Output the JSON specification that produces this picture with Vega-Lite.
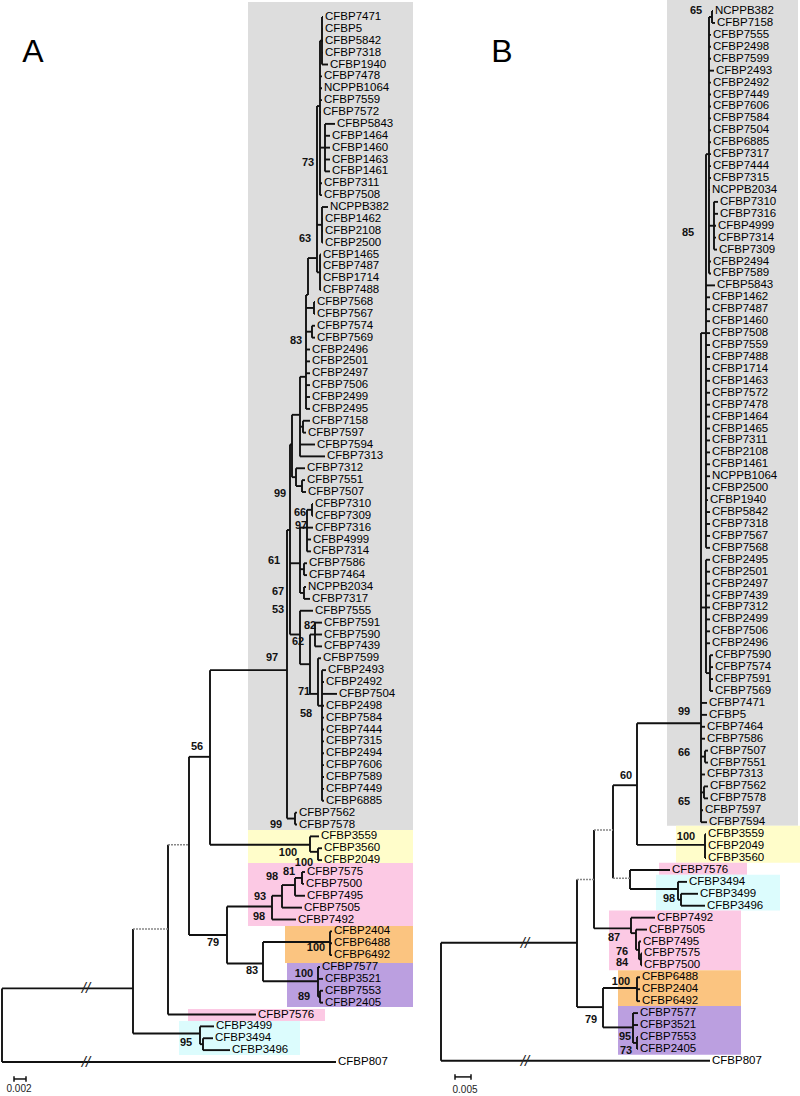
{
"$schema":"https://vega.github.io/schema/vega-lite/v6.json",
"padding":0,"spacing":0,"bounds":"flush","background":"white",
"config":{"view":{"stroke":null},"concat":{"spacing":0},"text":{"font":"Liberation Sans"},"rule":{"color":"#111","strokeWidth":1.9}},
"datasets":{
"rects":[
{"p":"A","x1":248,"x2":413,"r1":-1.26,"r2":68.46,"g":"gray"},
{"p":"A","x1":248,"x2":413,"r1":68.46,"r2":71.24,"g":"yellow"},
{"p":"A","x1":248,"x2":413,"r1":71.24,"r2":76.55,"g":"pink"},
{"p":"A","x1":285,"x2":413,"r1":76.55,"r2":79.66,"g":"orange"},
{"p":"A","x1":287,"x2":413,"r1":79.66,"r2":83.37,"g":"purple"},
{"p":"A","x1":188,"x2":325,"r1":83.54,"r2":84.55,"g":"pink"},
{"p":"A","x1":179,"x2":300,"r1":84.55,"r2":87.4,"g":"cyan"},
{"p":"B","x1":247,"x2":378,"r1":-0.92,"r2":68.3,"g":"gray"},
{"p":"B","x1":256,"x2":380,"r1":68.3,"r2":71.4,"g":"yellow"},
{"p":"B","x1":239,"x2":327,"r1":71.4,"r2":72.4,"g":"pink"},
{"p":"B","x1":236,"x2":360,"r1":72.4,"r2":75.4,"g":"cyan"},
{"p":"B","x1":189,"x2":321,"r1":75.4,"r2":80.4,"g":"pink"},
{"p":"B","x1":198,"x2":321,"r1":80.4,"r2":83.4,"g":"orange"},
{"p":"B","x1":198,"x2":321,"r1":83.4,"r2":87.5,"g":"purple"}
],
"nodes":[
{"p":"A","x":2,"px":2,"r1":81.8,"r2":88,"a":81.8},
{"p":"A","x":133,"px":2,"r1":76.8,"r2":85.6,"a":81.8},
{"p":"A","x":168,"px":133,"r1":69.7,"r2":84,"a":76.8,"d":1},
{"p":"A","x":200,"px":133,"r1":85,"r2":86.5,"a":85.6},
{"p":"A","x":203,"px":200,"r1":86,"r2":87,"a":86.5},
{"p":"A","x":189,"px":168,"r1":62.3,"r2":77.3,"a":69.7,"d":1},
{"p":"A","x":210,"px":189,"r1":55,"r2":69.7,"a":62.3},
{"p":"A","x":227,"px":189,"r1":74.9,"r2":79.7,"a":77.3},
{"p":"A","x":310,"px":210,"r1":69,"r2":70.3,"a":69.7},
{"p":"A","x":318,"px":310,"r1":70,"r2":71,"a":70.3},
{"p":"A","x":272,"px":227,"r1":74,"r2":76,"a":74.9},
{"p":"A","x":282,"px":272,"r1":73.1,"r2":75,"a":74},
{"p":"A","x":295,"px":282,"r1":72.5,"r2":74,"a":73.1},
{"p":"A","x":302,"px":295,"r1":72,"r2":73,"a":72.5},
{"p":"A","x":263,"px":227,"r1":77.9,"r2":81.2,"a":79.7},
{"p":"A","x":330,"px":263,"r1":77,"r2":79,"a":77.9},
{"p":"A","x":318,"px":263,"r1":80,"r2":82.5,"a":81.2},
{"p":"A","x":320,"px":318,"r1":82,"r2":83,"a":82.5},
{"p":"A","x":287,"px":210,"r1":43.2,"r2":67.5,"a":55},
{"p":"A","x":295,"px":287,"r1":67,"r2":68,"a":67.5},
{"p":"A","x":290,"px":287,"r1":36,"r2":52,"a":43.2},
{"p":"A","x":292,"px":290,"r1":33.5,"r2":38.75,"a":36},
{"p":"A","x":300,"px":292,"r1":30.3,"r2":37,"a":33.5},
{"p":"A","x":306,"px":300,"r1":23.4,"r2":33,"a":30.3},
{"p":"A","x":308,"px":306,"r1":20.3,"r2":23.4,"a":23.4},
{"p":"A","x":317,"px":308,"r1":7.5,"r2":21.5,"a":20.3},
{"p":"A","x":320,"px":317,"r1":2,"r2":15,"a":7.5},
{"p":"A","x":322,"px":320,"r1":0,"r2":4,"a":2},
{"p":"A","x":325,"px":320,"r1":9,"r2":13,"a":11},
{"p":"A","x":322,"px":317,"r1":16,"r2":19,"a":17.5},
{"p":"A","x":320,"px":317,"r1":20,"r2":23,"a":21.5},
{"p":"A","x":314,"px":306,"r1":24,"r2":25,"a":24.5},
{"p":"A","x":312,"px":306,"r1":26,"r2":27,"a":26.5},
{"p":"A","x":303,"px":300,"r1":34,"r2":35,"a":34.5},
{"p":"A","x":296,"px":292,"r1":38,"r2":39.5,"a":38.75},
{"p":"A","x":302,"px":296,"r1":39,"r2":40,"a":39.5},
{"p":"A","x":300,"px":290,"r1":43,"r2":48.5,"a":46},
{"p":"A","x":307,"px":300,"r1":41.5,"r2":45,"a":43},
{"p":"A","x":312,"px":307,"r1":41,"r2":42,"a":41.5},
{"p":"A","x":304,"px":300,"r1":46,"r2":47,"a":46.5},
{"p":"A","x":304,"px":300,"r1":48,"r2":49,"a":48.5},
{"p":"A","x":300,"px":290,"r1":50,"r2":54.5,"a":52},
{"p":"A","x":310,"px":300,"r1":52,"r2":57,"a":54.5},
{"p":"A","x":315,"px":310,"r1":51,"r2":53,"a":52},
{"p":"A","x":318,"px":310,"r1":54,"r2":58,"a":57},
{"p":"A","x":322,"px":318,"r1":55,"r2":66,"a":58},
{"p":"B","x":21,"px":21,"r1":78.1,"r2":88,"a":78.1},
{"p":"B","x":157,"px":21,"r1":72.8,"r2":83.5,"a":78.1},
{"p":"B","x":183,"px":157,"r1":81.9,"r2":85.2,"a":83.5},
{"p":"B","x":217,"px":183,"r1":81,"r2":83,"a":81.9},
{"p":"B","x":213,"px":183,"r1":84,"r2":86.5,"a":85.2},
{"p":"B","x":217,"px":213,"r1":86,"r2":87,"a":86.5},
{"p":"B","x":174,"px":157,"r1":68.65,"r2":76.9,"a":72.8,"d":1},
{"p":"B","x":211,"px":174,"r1":76,"r2":77.3,"a":76.9},
{"p":"B","x":216,"px":211,"r1":77,"r2":78.7,"a":77.3},
{"p":"B","x":219,"px":216,"r1":78,"r2":79.5,"a":78.7},
{"p":"B","x":221,"px":219,"r1":79,"r2":80,"a":79.5},
{"p":"B","x":193,"px":174,"r1":64.9,"r2":72.7,"a":68.65,"d":1},
{"p":"B","x":210,"px":193,"r1":72,"r2":73.6,"a":72.7,"d":1},
{"p":"B","x":258,"px":210,"r1":73,"r2":74.5,"a":73.6},
{"p":"B","x":261,"px":258,"r1":74,"r2":75,"a":74.5},
{"p":"B","x":217,"px":193,"r1":59.7,"r2":69.9,"a":64.9},
{"p":"B","x":285,"px":217,"r1":69,"r2":71,"a":69.9},
{"p":"B","x":281,"px":217,"r1":27,"r2":68,"a":59.7},
{"p":"B","x":286,"px":281,"r1":12,"r2":45,"a":27},
{"p":"B","x":286,"px":281,"r1":46,"r2":55.5,"a":50},
{"p":"B","x":290,"px":286,"r1":54,"r2":57,"a":55.5},
{"p":"B","x":289,"px":286,"r1":0.5,"r2":22,"a":12},
{"p":"B","x":292,"px":289,"r1":0,"r2":1,"a":0.5},
{"p":"B","x":294,"px":289,"r1":16,"r2":20,"a":18},
{"p":"B","x":285,"px":281,"r1":62,"r2":63,"a":62.5},
{"p":"B","x":284,"px":281,"r1":65,"r2":66,"a":65.5}
],
"leaves":[
{"p":"A","n":"CFBP7471","r":0,"px":322,"t":323},
{"p":"A","n":"CFBP5","r":1,"px":322,"t":323},
{"p":"A","n":"CFBP5842","r":2,"px":322,"t":323},
{"p":"A","n":"CFBP7318","r":3,"px":322,"t":323},
{"p":"A","n":"CFBP1940","r":4,"px":322,"t":328},
{"p":"A","n":"CFBP7478","r":5,"px":320,"t":322},
{"p":"A","n":"NCPPB1064","r":6,"px":320,"t":322},
{"p":"A","n":"CFBP7559","r":7,"px":320,"t":322},
{"p":"A","n":"CFBP7572","r":8,"px":320,"t":321},
{"p":"A","n":"CFBP5843","r":9,"px":325,"t":335},
{"p":"A","n":"CFBP1464","r":10,"px":325,"t":330},
{"p":"A","n":"CFBP1460","r":11,"px":325,"t":330},
{"p":"A","n":"CFBP1463","r":12,"px":325,"t":330},
{"p":"A","n":"CFBP1461","r":13,"px":325,"t":330},
{"p":"A","n":"CFBP7311","r":14,"px":320,"t":322},
{"p":"A","n":"CFBP7508","r":15,"px":320,"t":322},
{"p":"A","n":"NCPPB382","r":16,"px":322,"t":328},
{"p":"A","n":"CFBP1462","r":17,"px":322,"t":323},
{"p":"A","n":"CFBP2108","r":18,"px":322,"t":323},
{"p":"A","n":"CFBP2500","r":19,"px":322,"t":323},
{"p":"A","n":"CFBP1465","r":20,"px":320,"t":321},
{"p":"A","n":"CFBP7487","r":21,"px":320,"t":321},
{"p":"A","n":"CFBP1714","r":22,"px":320,"t":321},
{"p":"A","n":"CFBP7488","r":23,"px":320,"t":321},
{"p":"A","n":"CFBP7568","r":24,"px":314,"t":315},
{"p":"A","n":"CFBP7567","r":25,"px":314,"t":315},
{"p":"A","n":"CFBP7574","r":26,"px":312,"t":315},
{"p":"A","n":"CFBP7569","r":27,"px":312,"t":315},
{"p":"A","n":"CFBP2496","r":28,"px":306,"t":310},
{"p":"A","n":"CFBP2501","r":29,"px":306,"t":310},
{"p":"A","n":"CFBP2497","r":30,"px":306,"t":310},
{"p":"A","n":"CFBP7506","r":31,"px":306,"t":310},
{"p":"A","n":"CFBP2499","r":32,"px":306,"t":310},
{"p":"A","n":"CFBP2495","r":33,"px":306,"t":310},
{"p":"A","n":"CFBP7158","r":34,"px":303,"t":310},
{"p":"A","n":"CFBP7597","r":35,"px":303,"t":306},
{"p":"A","n":"CFBP7594","r":36,"px":300,"t":315},
{"p":"A","n":"CFBP7313","r":37,"px":300,"t":325},
{"p":"A","n":"CFBP7312","r":38,"px":296,"t":305},
{"p":"A","n":"CFBP7551","r":39,"px":302,"t":305},
{"p":"A","n":"CFBP7507","r":40,"px":302,"t":306},
{"p":"A","n":"CFBP7310","r":41,"px":312,"t":313},
{"p":"A","n":"CFBP7309","r":42,"px":312,"t":313},
{"p":"A","n":"CFBP7316","r":43,"px":307,"t":313},
{"p":"A","n":"CFBP4999","r":44,"px":307,"t":311},
{"p":"A","n":"CFBP7314","r":45,"px":307,"t":311},
{"p":"A","n":"CFBP7586","r":46,"px":304,"t":307},
{"p":"A","n":"CFBP7464","r":47,"px":304,"t":307},
{"p":"A","n":"NCPPB2034","r":48,"px":304,"t":306},
{"p":"A","n":"CFBP7317","r":49,"px":304,"t":310},
{"p":"A","n":"CFBP7555","r":50,"px":300,"t":313},
{"p":"A","n":"CFBP7591","r":51,"px":315,"t":322},
{"p":"A","n":"CFBP7590","r":52,"px":315,"t":322},
{"p":"A","n":"CFBP7439","r":53,"px":315,"t":322},
{"p":"A","n":"CFBP7599","r":54,"px":318,"t":321},
{"p":"A","n":"CFBP2493","r":55,"px":322,"t":326},
{"p":"A","n":"CFBP2492","r":56,"px":322,"t":324},
{"p":"A","n":"CFBP7504","r":57,"px":322,"t":337},
{"p":"A","n":"CFBP2498","r":58,"px":322,"t":324},
{"p":"A","n":"CFBP7584","r":59,"px":322,"t":324},
{"p":"A","n":"CFBP7444","r":60,"px":322,"t":324},
{"p":"A","n":"CFBP7315","r":61,"px":322,"t":324},
{"p":"A","n":"CFBP2494","r":62,"px":322,"t":324},
{"p":"A","n":"CFBP7606","r":63,"px":322,"t":324},
{"p":"A","n":"CFBP7589","r":64,"px":322,"t":324},
{"p":"A","n":"CFBP7449","r":65,"px":322,"t":324},
{"p":"A","n":"CFBP6885","r":66,"px":322,"t":324},
{"p":"A","n":"CFBP7562","r":67,"px":295,"t":297},
{"p":"A","n":"CFBP7578","r":68,"px":295,"t":297},
{"p":"A","n":"CFBP3559","r":69,"px":310,"t":319},
{"p":"A","n":"CFBP3560","r":70,"px":318,"t":322},
{"p":"A","n":"CFBP2049","r":71,"px":318,"t":322},
{"p":"A","n":"CFBP7575","r":72,"px":302,"t":305},
{"p":"A","n":"CFBP7500","r":73,"px":302,"t":304},
{"p":"A","n":"CFBP7495","r":74,"px":295,"t":305},
{"p":"A","n":"CFBP7505","r":75,"px":282,"t":302},
{"p":"A","n":"CFBP7492","r":76,"px":272,"t":296},
{"p":"A","n":"CFBP2404","r":77,"px":330,"t":332},
{"p":"A","n":"CFBP6488","r":78,"px":330,"t":332},
{"p":"A","n":"CFBP6492","r":79,"px":330,"t":332},
{"p":"A","n":"CFBP7577","r":80,"px":318,"t":320},
{"p":"A","n":"CFBP3521","r":81,"px":318,"t":323},
{"p":"A","n":"CFBP7553","r":82,"px":320,"t":323},
{"p":"A","n":"CFBP2405","r":83,"px":320,"t":323},
{"p":"A","n":"CFBP7576","r":84,"px":168,"t":256},
{"p":"A","n":"CFBP3499","r":85,"px":200,"t":214},
{"p":"A","n":"CFBP3494","r":86,"px":203,"t":213},
{"p":"A","n":"CFBP3496","r":87,"px":203,"t":230},
{"p":"A","n":"CFBP807","r":88,"px":2,"t":336},
{"p":"B","n":"NCPPB382","r":0,"px":292,"t":293},
{"p":"B","n":"CFBP7158","r":1,"px":292,"t":295},
{"p":"B","n":"CFBP7555","r":2,"px":289,"t":291},
{"p":"B","n":"CFBP2498","r":3,"px":289,"t":291},
{"p":"B","n":"CFBP7599","r":4,"px":289,"t":291},
{"p":"B","n":"CFBP2493","r":5,"px":289,"t":294},
{"p":"B","n":"CFBP2492","r":6,"px":289,"t":291},
{"p":"B","n":"CFBP7449","r":7,"px":289,"t":291},
{"p":"B","n":"CFBP7606","r":8,"px":289,"t":291},
{"p":"B","n":"CFBP7584","r":9,"px":289,"t":291},
{"p":"B","n":"CFBP7504","r":10,"px":289,"t":291},
{"p":"B","n":"CFBP6885","r":11,"px":289,"t":291},
{"p":"B","n":"CFBP7317","r":12,"px":289,"t":291},
{"p":"B","n":"CFBP7444","r":13,"px":289,"t":291},
{"p":"B","n":"CFBP7315","r":14,"px":289,"t":291},
{"p":"B","n":"NCPPB2034","r":15,"px":289,"t":290},
{"p":"B","n":"CFBP7310","r":16,"px":294,"t":298},
{"p":"B","n":"CFBP7316","r":17,"px":294,"t":298},
{"p":"B","n":"CFBP4999","r":18,"px":294,"t":296},
{"p":"B","n":"CFBP7314","r":19,"px":294,"t":296},
{"p":"B","n":"CFBP7309","r":20,"px":294,"t":297},
{"p":"B","n":"CFBP2494","r":21,"px":289,"t":291},
{"p":"B","n":"CFBP7589","r":22,"px":289,"t":291},
{"p":"B","n":"CFBP5843","r":23,"px":286,"t":295},
{"p":"B","n":"CFBP1462","r":24,"px":286,"t":290},
{"p":"B","n":"CFBP7487","r":25,"px":286,"t":290},
{"p":"B","n":"CFBP1460","r":26,"px":286,"t":290},
{"p":"B","n":"CFBP7508","r":27,"px":286,"t":290},
{"p":"B","n":"CFBP7559","r":28,"px":286,"t":290},
{"p":"B","n":"CFBP7488","r":29,"px":286,"t":290},
{"p":"B","n":"CFBP1714","r":30,"px":286,"t":290},
{"p":"B","n":"CFBP1463","r":31,"px":286,"t":290},
{"p":"B","n":"CFBP7572","r":32,"px":286,"t":290},
{"p":"B","n":"CFBP7478","r":33,"px":286,"t":290},
{"p":"B","n":"CFBP1464","r":34,"px":286,"t":290},
{"p":"B","n":"CFBP1465","r":35,"px":286,"t":290},
{"p":"B","n":"CFBP7311","r":36,"px":286,"t":290},
{"p":"B","n":"CFBP2108","r":37,"px":286,"t":290},
{"p":"B","n":"CFBP1461","r":38,"px":286,"t":290},
{"p":"B","n":"NCPPB1064","r":39,"px":286,"t":290},
{"p":"B","n":"CFBP2500","r":40,"px":286,"t":290},
{"p":"B","n":"CFBP1940","r":41,"px":286,"t":288},
{"p":"B","n":"CFBP5842","r":42,"px":286,"t":290},
{"p":"B","n":"CFBP7318","r":43,"px":286,"t":290},
{"p":"B","n":"CFBP7567","r":44,"px":286,"t":290},
{"p":"B","n":"CFBP7568","r":45,"px":286,"t":290},
{"p":"B","n":"CFBP2495","r":46,"px":286,"t":290},
{"p":"B","n":"CFBP2501","r":47,"px":286,"t":290},
{"p":"B","n":"CFBP2497","r":48,"px":286,"t":290},
{"p":"B","n":"CFBP7439","r":49,"px":286,"t":290},
{"p":"B","n":"CFBP7312","r":50,"px":286,"t":290},
{"p":"B","n":"CFBP2499","r":51,"px":286,"t":290},
{"p":"B","n":"CFBP7506","r":52,"px":286,"t":290},
{"p":"B","n":"CFBP2496","r":53,"px":286,"t":290},
{"p":"B","n":"CFBP7590","r":54,"px":290,"t":293},
{"p":"B","n":"CFBP7574","r":55,"px":290,"t":293},
{"p":"B","n":"CFBP7591","r":56,"px":290,"t":293},
{"p":"B","n":"CFBP7569","r":57,"px":290,"t":293},
{"p":"B","n":"CFBP7471","r":58,"px":281,"t":287},
{"p":"B","n":"CFBP5","r":59,"px":281,"t":287},
{"p":"B","n":"CFBP7464","r":60,"px":281,"t":285},
{"p":"B","n":"CFBP7586","r":61,"px":281,"t":285},
{"p":"B","n":"CFBP7507","r":62,"px":285,"t":288},
{"p":"B","n":"CFBP7551","r":63,"px":285,"t":288},
{"p":"B","n":"CFBP7313","r":64,"px":281,"t":285},
{"p":"B","n":"CFBP7562","r":65,"px":284,"t":288},
{"p":"B","n":"CFBP7578","r":66,"px":284,"t":288},
{"p":"B","n":"CFBP7597","r":67,"px":281,"t":283},
{"p":"B","n":"CFBP7594","r":68,"px":281,"t":287},
{"p":"B","n":"CFBP3559","r":69,"px":285,"t":286},
{"p":"B","n":"CFBP2049","r":70,"px":285,"t":286},
{"p":"B","n":"CFBP3560","r":71,"px":285,"t":286},
{"p":"B","n":"CFBP7576","r":72,"px":210,"t":250},
{"p":"B","n":"CFBP3494","r":73,"px":258,"t":267},
{"p":"B","n":"CFBP3499","r":74,"px":261,"t":278},
{"p":"B","n":"CFBP3496","r":75,"px":261,"t":285},
{"p":"B","n":"CFBP7492","r":76,"px":211,"t":235},
{"p":"B","n":"CFBP7505","r":77,"px":216,"t":227},
{"p":"B","n":"CFBP7495","r":78,"px":219,"t":221},
{"p":"B","n":"CFBP7575","r":79,"px":221,"t":222},
{"p":"B","n":"CFBP7500","r":80,"px":221,"t":222},
{"p":"B","n":"CFBP6488","r":81,"px":217,"t":220},
{"p":"B","n":"CFBP2404","r":82,"px":217,"t":220},
{"p":"B","n":"CFBP6492","r":83,"px":217,"t":220},
{"p":"B","n":"CFBP7577","r":84,"px":213,"t":218},
{"p":"B","n":"CFBP3521","r":85,"px":213,"t":218},
{"p":"B","n":"CFBP7553","r":86,"px":217,"t":218},
{"p":"B","n":"CFBP2405","r":87,"px":217,"t":218},
{"p":"B","n":"CFBP807","r":88,"px":21,"t":290}
],
"boot":[
{"p":"A","x":308,"r":12.3,"v":"73"},
{"p":"A","x":305,"r":18.7,"v":"63"},
{"p":"A","x":296,"r":27.3,"v":"83"},
{"p":"A","x":280,"r":40.2,"v":"99"},
{"p":"A","x":300,"r":41.8,"v":"66"},
{"p":"A","x":301,"r":42.9,"v":"97"},
{"p":"A","x":274,"r":45.8,"v":"61"},
{"p":"A","x":278,"r":48.4,"v":"67"},
{"p":"A","x":278,"r":49.9,"v":"53"},
{"p":"A","x":310,"r":51.3,"v":"82"},
{"p":"A","x":298,"r":52.6,"v":"62"},
{"p":"A","x":272,"r":54,"v":"97"},
{"p":"A","x":304,"r":56.8,"v":"71"},
{"p":"A","x":306,"r":58.7,"v":"58"},
{"p":"A","x":276,"r":68,"v":"99"},
{"p":"A","x":197,"r":61.5,"v":"56"},
{"p":"A","x":288,"r":70.4,"v":"100"},
{"p":"A","x":304,"r":71.2,"v":"100"},
{"p":"A","x":289,"r":72,"v":"81"},
{"p":"A","x":272,"r":72.4,"v":"98"},
{"p":"A","x":260,"r":74.1,"v":"93"},
{"p":"A","x":259,"r":75.8,"v":"98"},
{"p":"A","x":213,"r":78,"v":"79"},
{"p":"A","x":316,"r":78.4,"v":"100"},
{"p":"A","x":252,"r":80.3,"v":"83"},
{"p":"A","x":304,"r":80.6,"v":"100"},
{"p":"A","x":304,"r":82.5,"v":"89"},
{"p":"A","x":186,"r":86.4,"v":"95"},
{"p":"B","x":276,"r":0,"v":"65"},
{"p":"B","x":268,"r":18.6,"v":"85"},
{"p":"B","x":264,"r":58.8,"v":"99"},
{"p":"B","x":264,"r":62.2,"v":"66"},
{"p":"B","x":264,"r":66.3,"v":"65"},
{"p":"B","x":206,"r":64.1,"v":"60"},
{"p":"B","x":266,"r":69.2,"v":"100"},
{"p":"B","x":249,"r":74.4,"v":"98"},
{"p":"B","x":194,"r":77.7,"v":"87"},
{"p":"B","x":202,"r":78.9,"v":"76"},
{"p":"B","x":202,"r":79.8,"v":"84"},
{"p":"B","x":201,"r":81.4,"v":"100"},
{"p":"B","x":171,"r":84.6,"v":"79"},
{"p":"B","x":205,"r":86,"v":"95"},
{"p":"B","x":206,"r":87.2,"v":"73"}
],
"bars":[
{"p":"A","x":14,"x2":26,"r1":89.43,"r2":89.43},
{"p":"A","x":14,"x2":14,"r1":89.2,"r2":89.66},
{"p":"A","x":26,"x2":26,"r1":89.2,"r2":89.66},
{"p":"B","x":35,"x2":51,"r1":89.35,"r2":89.35},
{"p":"B","x":35,"x2":35,"r1":89.12,"r2":89.58},
{"p":"B","x":51,"x2":51,"r1":89.12,"r2":89.58}
],
"notes":[
{"p":"A","x":86,"r":81.8,"v":"//","k":"brk"},
{"p":"A","x":86,"r":88,"v":"//","k":"brk"},
{"p":"B","x":105,"r":78.1,"v":"//","k":"brk"},
{"p":"B","x":105,"r":88,"v":"//","k":"brk"},
{"p":"A","x":19,"r":90.3,"v":"0.002","k":"scale"},
{"p":"B","x":45,"r":90.45,"v":"0.005","k":"scale"},
{"p":"A","x":33,"r":2.95,"v":"A","k":"panel"},
{"p":"B","x":82,"r":3.44,"v":"B","k":"panel"}
]
},
"hconcat":[
{"width":420,"height":1096,
"layer":[
{"data":{"name":"rects"},"transform":[{"filter":"datum.p==='A'"}],"mark":{"type":"rect"},
"encoding":{"x":{"field":"x1","type":"quantitative","axis":null,"scale":{"domain":[0,420],"nice":false,"zero":false}},"x2":{"field":"x2"},
"y":{"field":"r1","type":"quantitative","axis":null,"scale":{"domain":[-1.432,90.863],"reverse":true,"nice":false,"zero":false}},"y2":{"field":"r2"},
"color":{"field":"g","type":"nominal","legend":null,"scale":{"domain":["gray","yellow","pink","orange","purple","cyan"],"range":["#dddddd","#fffdca","#fcc9e4","#fbc480","#bb9fe0","#dcfcfd"]}}}},
{"data":{"name":"nodes"},"transform":[{"filter":"datum.p==='A'"}],"mark":{"type":"rule"},
"encoding":{"x":{"field":"x","type":"quantitative","axis":null,"scale":{"domain":[0,420],"nice":false,"zero":false}},
"y":{"field":"r1","type":"quantitative","axis":null,"scale":{"domain":[-1.432,90.863],"reverse":true,"nice":false,"zero":false}},"y2":{"field":"r2"}}},
{"data":{"name":"nodes"},"transform":[{"filter":"datum.p==='A' && !datum.d"}],"mark":{"type":"rule"},
"encoding":{"x":{"field":"px","type":"quantitative","axis":null,"scale":{"domain":[0,420],"nice":false,"zero":false}},"x2":{"field":"x"},
"y":{"field":"a","type":"quantitative","axis":null,"scale":{"domain":[-1.432,90.863],"reverse":true,"nice":false,"zero":false}}}},
{"data":{"name":"nodes"},"transform":[{"filter":"datum.p==='A' && datum.d===1"}],"mark":{"type":"rule","color":"#888","strokeWidth":1.6,"strokeDash":[2,1]},
"encoding":{"x":{"field":"px","type":"quantitative","axis":null,"scale":{"domain":[0,420],"nice":false,"zero":false}},"x2":{"field":"x"},
"y":{"field":"a","type":"quantitative","axis":null,"scale":{"domain":[-1.432,90.863],"reverse":true,"nice":false,"zero":false}}}},
{"data":{"name":"leaves"},"transform":[{"filter":"datum.p==='A'"}],"mark":{"type":"rule"},
"encoding":{"x":{"field":"px","type":"quantitative","axis":null,"scale":{"domain":[0,420],"nice":false,"zero":false}},"x2":{"field":"t"},
"y":{"field":"r","type":"quantitative","axis":null,"scale":{"domain":[-1.432,90.863],"reverse":true,"nice":false,"zero":false}}}},
{"data":{"name":"bars"},"transform":[{"filter":"datum.p==='A'"}],"mark":{"type":"rule","strokeWidth":1.5},
"encoding":{"x":{"field":"x","type":"quantitative","axis":null,"scale":{"domain":[0,420],"nice":false,"zero":false}},"x2":{"field":"x2"},
"y":{"field":"r1","type":"quantitative","axis":null,"scale":{"domain":[-1.432,90.863],"reverse":true,"nice":false,"zero":false}},"y2":{"field":"r2"}}},
{"data":{"name":"leaves"},"transform":[{"filter":"datum.p==='A'"}],"mark":{"type":"text","align":"left","baseline":"middle","dx":2,"fontSize":11.5,"color":"#000"},
"encoding":{"x":{"field":"t","type":"quantitative","axis":null,"scale":{"domain":[0,420],"nice":false,"zero":false}},
"y":{"field":"r","type":"quantitative","axis":null,"scale":{"domain":[-1.432,90.863],"reverse":true,"nice":false,"zero":false}},"text":{"field":"n"}}},
{"data":{"name":"boot"},"transform":[{"filter":"datum.p==='A'"}],"mark":{"type":"text","align":"center","baseline":"middle","fontSize":11,"fontWeight":"bold","color":"#111"},
"encoding":{"x":{"field":"x","type":"quantitative","axis":null,"scale":{"domain":[0,420],"nice":false,"zero":false}},
"y":{"field":"r","type":"quantitative","axis":null,"scale":{"domain":[-1.432,90.863],"reverse":true,"nice":false,"zero":false}},"text":{"field":"v"}}},
{"data":{"name":"notes"},"transform":[{"filter":"datum.p==='A' && datum.k==='brk'"}],"mark":{"type":"text","align":"center","baseline":"middle","fontSize":15,"fontStyle":"italic","color":"#222"},
"encoding":{"x":{"field":"x","type":"quantitative","axis":null,"scale":{"domain":[0,420],"nice":false,"zero":false}},
"y":{"field":"r","type":"quantitative","axis":null,"scale":{"domain":[-1.432,90.863],"reverse":true,"nice":false,"zero":false}},"text":{"field":"v"}}},
{"data":{"name":"notes"},"transform":[{"filter":"datum.p==='A' && datum.k==='scale'"}],"mark":{"type":"text","align":"center","baseline":"middle","fontSize":10,"color":"#222"},
"encoding":{"x":{"field":"x","type":"quantitative","axis":null,"scale":{"domain":[0,420],"nice":false,"zero":false}},
"y":{"field":"r","type":"quantitative","axis":null,"scale":{"domain":[-1.432,90.863],"reverse":true,"nice":false,"zero":false}},"text":{"field":"v"}}},
{"data":{"name":"notes"},"transform":[{"filter":"datum.p==='A' && datum.k==='panel'"}],"mark":{"type":"text","align":"center","baseline":"middle","fontSize":32,"color":"#000"},
"encoding":{"x":{"field":"x","type":"quantitative","axis":null,"scale":{"domain":[0,420],"nice":false,"zero":false}},
"y":{"field":"r","type":"quantitative","axis":null,"scale":{"domain":[-1.432,90.863],"reverse":true,"nice":false,"zero":false}},"text":{"field":"v"}}}
]},
{"width":380,"height":1096,
"layer":[
{"data":{"name":"rects"},"transform":[{"filter":"datum.p==='B'"}],"mark":{"type":"rect"},
"encoding":{"x":{"field":"x1","type":"quantitative","axis":null,"scale":{"domain":[0,380],"nice":false,"zero":false}},"x2":{"field":"x2"},
"y":{"field":"r1","type":"quantitative","axis":null,"scale":{"domain":[-0.922,90.95],"reverse":true,"nice":false,"zero":false}},"y2":{"field":"r2"},
"color":{"field":"g","type":"nominal","legend":null,"scale":{"domain":["gray","yellow","pink","orange","purple","cyan"],"range":["#dddddd","#fffdca","#fcc9e4","#fbc480","#bb9fe0","#dcfcfd"]}}}},
{"data":{"name":"nodes"},"transform":[{"filter":"datum.p==='B'"}],"mark":{"type":"rule"},
"encoding":{"x":{"field":"x","type":"quantitative","axis":null,"scale":{"domain":[0,380],"nice":false,"zero":false}},
"y":{"field":"r1","type":"quantitative","axis":null,"scale":{"domain":[-0.922,90.95],"reverse":true,"nice":false,"zero":false}},"y2":{"field":"r2"}}},
{"data":{"name":"nodes"},"transform":[{"filter":"datum.p==='B' && !datum.d"}],"mark":{"type":"rule"},
"encoding":{"x":{"field":"px","type":"quantitative","axis":null,"scale":{"domain":[0,380],"nice":false,"zero":false}},"x2":{"field":"x"},
"y":{"field":"a","type":"quantitative","axis":null,"scale":{"domain":[-0.922,90.95],"reverse":true,"nice":false,"zero":false}}}},
{"data":{"name":"nodes"},"transform":[{"filter":"datum.p==='B' && datum.d===1"}],"mark":{"type":"rule","color":"#888","strokeWidth":1.6,"strokeDash":[2,1]},
"encoding":{"x":{"field":"px","type":"quantitative","axis":null,"scale":{"domain":[0,380],"nice":false,"zero":false}},"x2":{"field":"x"},
"y":{"field":"a","type":"quantitative","axis":null,"scale":{"domain":[-0.922,90.95],"reverse":true,"nice":false,"zero":false}}}},
{"data":{"name":"leaves"},"transform":[{"filter":"datum.p==='B'"}],"mark":{"type":"rule"},
"encoding":{"x":{"field":"px","type":"quantitative","axis":null,"scale":{"domain":[0,380],"nice":false,"zero":false}},"x2":{"field":"t"},
"y":{"field":"r","type":"quantitative","axis":null,"scale":{"domain":[-0.922,90.95],"reverse":true,"nice":false,"zero":false}}}},
{"data":{"name":"bars"},"transform":[{"filter":"datum.p==='B'"}],"mark":{"type":"rule","strokeWidth":1.5},
"encoding":{"x":{"field":"x","type":"quantitative","axis":null,"scale":{"domain":[0,380],"nice":false,"zero":false}},"x2":{"field":"x2"},
"y":{"field":"r1","type":"quantitative","axis":null,"scale":{"domain":[-0.922,90.95],"reverse":true,"nice":false,"zero":false}},"y2":{"field":"r2"}}},
{"data":{"name":"leaves"},"transform":[{"filter":"datum.p==='B'"}],"mark":{"type":"text","align":"left","baseline":"middle","dx":2,"fontSize":11.5,"color":"#000"},
"encoding":{"x":{"field":"t","type":"quantitative","axis":null,"scale":{"domain":[0,380],"nice":false,"zero":false}},
"y":{"field":"r","type":"quantitative","axis":null,"scale":{"domain":[-0.922,90.95],"reverse":true,"nice":false,"zero":false}},"text":{"field":"n"}}},
{"data":{"name":"boot"},"transform":[{"filter":"datum.p==='B'"}],"mark":{"type":"text","align":"center","baseline":"middle","fontSize":11,"fontWeight":"bold","color":"#111"},
"encoding":{"x":{"field":"x","type":"quantitative","axis":null,"scale":{"domain":[0,380],"nice":false,"zero":false}},
"y":{"field":"r","type":"quantitative","axis":null,"scale":{"domain":[-0.922,90.95],"reverse":true,"nice":false,"zero":false}},"text":{"field":"v"}}},
{"data":{"name":"notes"},"transform":[{"filter":"datum.p==='B' && datum.k==='brk'"}],"mark":{"type":"text","align":"center","baseline":"middle","fontSize":15,"fontStyle":"italic","color":"#222"},
"encoding":{"x":{"field":"x","type":"quantitative","axis":null,"scale":{"domain":[0,380],"nice":false,"zero":false}},
"y":{"field":"r","type":"quantitative","axis":null,"scale":{"domain":[-0.922,90.95],"reverse":true,"nice":false,"zero":false}},"text":{"field":"v"}}},
{"data":{"name":"notes"},"transform":[{"filter":"datum.p==='B' && datum.k==='scale'"}],"mark":{"type":"text","align":"center","baseline":"middle","fontSize":10,"color":"#222"},
"encoding":{"x":{"field":"x","type":"quantitative","axis":null,"scale":{"domain":[0,380],"nice":false,"zero":false}},
"y":{"field":"r","type":"quantitative","axis":null,"scale":{"domain":[-0.922,90.95],"reverse":true,"nice":false,"zero":false}},"text":{"field":"v"}}},
{"data":{"name":"notes"},"transform":[{"filter":"datum.p==='B' && datum.k==='panel'"}],"mark":{"type":"text","align":"center","baseline":"middle","fontSize":32,"color":"#000"},
"encoding":{"x":{"field":"x","type":"quantitative","axis":null,"scale":{"domain":[0,380],"nice":false,"zero":false}},
"y":{"field":"r","type":"quantitative","axis":null,"scale":{"domain":[-0.922,90.95],"reverse":true,"nice":false,"zero":false}},"text":{"field":"v"}}}
]}
]
}
